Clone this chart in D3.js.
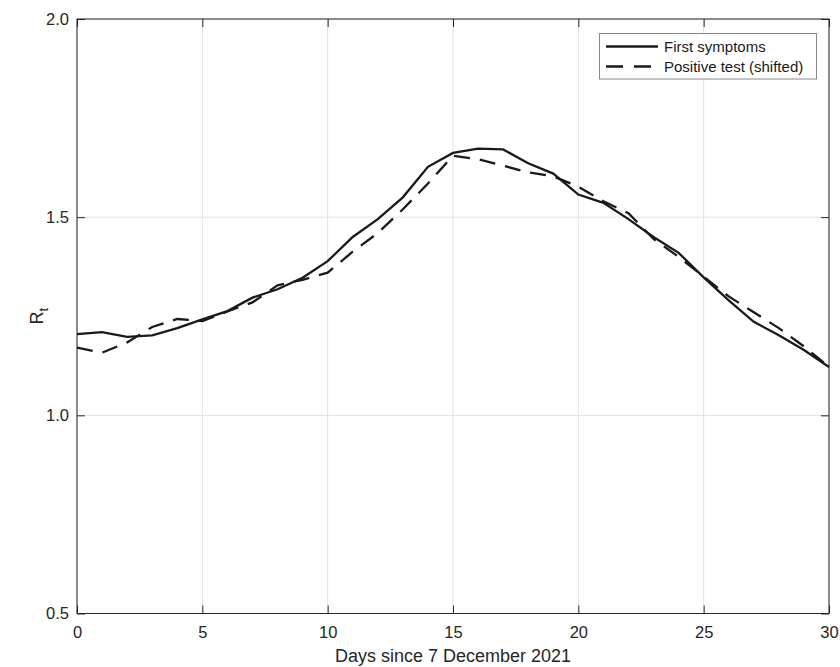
<!DOCTYPE html>
<html>
<head>
<meta charset="utf-8">
<script src="https://cdn.jsdelivr.net/npm/d3@7"></script>
<style>
  body { margin: 0; background: #fff; }
  svg { display: block; font-family: "Liberation Sans", Arial, Helvetica, sans-serif; }
</style>
</head>
<body>
<svg id="chart" width="840" height="667"></svg>
<script>
// R_t estimates, days since 7 December 2021
var days = [0,1,2,3,4,5,6,7,8,9,10,11,12,13,14,15,16,17,18,19,20,21,22,23,24,25,26,27,28,29,30];
var firstSymptoms = [1.205,1.210,1.198,1.202,1.220,1.242,1.263,1.297,1.318,1.347,1.389,1.450,1.495,1.550,1.627,
                     1.662,1.673,1.671,1.636,1.610,1.557,1.536,1.495,1.450,1.410,1.348,1.290,1.236,1.202,1.165,1.122];
var positiveTest = [1.171,1.158,1.184,1.223,1.243,1.238,1.262,1.285,1.328,1.342,1.360,1.413,1.460,1.520,1.585,
                    1.655,1.646,1.630,1.613,1.603,1.577,1.540,1.510,1.445,1.400,1.350,1.300,1.260,1.220,1.174,1.122];
var xTicks = [0,5,10,15,20,25,30];
var yTicks = [0.5,1.0,1.5,2.0];
var seriesNames = ["First symptoms", "Positive test (shifted)"];

var svg = d3.select("#chart");
// note: "top" is taken by window.top, so the plot box uses its own names
var pLeft = 77, pRight = 829, pTop = 19, pBottom = 613.5;
var axisColor = "#262626", gridColor = "#e2e2e2";

var x = d3.scaleLinear().domain([0, 30]).range([pLeft, pRight]);
var y = d3.scaleLinear().domain([0.5, 2.0]).range([pBottom, pTop]);

// grid
var g = svg.append("g");
g.selectAll(".vgrid").data(xTicks).enter().append("line")
	.attr("x1", function(d) { return x(d); }).attr("x2", function(d) { return x(d); })
	.attr("y1", pTop).attr("y2", pBottom)
	.attr("stroke", gridColor).attr("stroke-width", 1);
g.selectAll(".hgrid").data(yTicks).enter().append("line")
	.attr("y1", function(d) { return y(d); }).attr("y2", function(d) { return y(d); })
	.attr("x1", pLeft).attr("x2", pRight)
	.attr("stroke", gridColor).attr("stroke-width", 1);

// axes (ticks pointing inward, box on all sides)
function styleAxis(sel) {
	sel.select(".domain").remove();
	sel.selectAll(".tick line").attr("stroke", axisColor);
	sel.selectAll(".tick text").attr("fill", axisColor).style("font-size", "16.5px").style("font-family", null);
}
var tickLen = 8;
svg.append("g").attr("transform", "translate(0," + pBottom + ")")
	.call(d3.axisBottom(x).tickValues(xTicks).tickFormat(d3.format("d")).tickSizeInner(-tickLen).tickSizeOuter(0).tickPadding(13))
	.call(styleAxis);
svg.append("g").attr("transform", "translate(0," + pTop + ")")
	.call(d3.axisTop(x).tickValues(xTicks).tickFormat("").tickSizeInner(-tickLen).tickSizeOuter(0))
	.call(styleAxis);
svg.append("g").attr("transform", "translate(" + pLeft + ",0)")
	.call(d3.axisLeft(y).tickValues(yTicks).tickFormat(d3.format(".1f")).tickSizeInner(-tickLen).tickSizeOuter(0).tickPadding(8))
	.call(styleAxis);
svg.append("g").attr("transform", "translate(" + pRight + ",0)")
	.call(d3.axisRight(y).tickValues(yTicks).tickFormat("").tickSizeInner(-tickLen).tickSizeOuter(0))
	.call(styleAxis);

svg.append("rect")
	.attr("x", pLeft).attr("y", pTop).attr("width", pRight - pLeft).attr("height", pBottom - pTop)
	.attr("fill", "none").attr("stroke", axisColor).attr("stroke-width", 1);

// lines
var line = d3.line()
	.x(function(d) { return x(d[0]); })
	.y(function(d) { return y(d[1]); });

svg.append("path")
	.datum(d3.zip(days, positiveTest))
	.attr("d", line)
	.attr("fill", "none").attr("stroke", "#1a1a1a").attr("stroke-width", 2.3)
	.attr("stroke-dasharray", "16,10");
svg.append("path")
	.datum(d3.zip(days, firstSymptoms))
	.attr("d", line)
	.attr("fill", "none").attr("stroke", "#1a1a1a").attr("stroke-width", 2.3);

// axis labels
svg.append("text")
	.attr("x", (pLeft + pRight) / 2).attr("y", 662)
	.attr("text-anchor", "middle").attr("fill", axisColor)
	.style("font-size", "18px")
	.text("Days since 7 December 2021");

var yl = svg.append("text")
	.attr("transform", "translate(43," + ((pTop + pBottom) / 2) + ") rotate(-90)")
	.attr("text-anchor", "middle").attr("fill", axisColor)
	.style("font-size", "18px");
yl.append("tspan").text("R");
yl.append("tspan").attr("dy", 5).style("font-size", "13px").text("t");

// legend
var lg = svg.append("g");
lg.append("rect")
	.attr("x", 599.5).attr("y", 33.5).attr("width", 217).attr("height", 45.5)
	.attr("fill", "#fff").attr("stroke", "#888").attr("stroke-width", 1);
var rows = lg.selectAll(".row").data(seriesNames).enter().append("g")
	.attr("transform", function(d, i) { return "translate(0," + (46.5 + i * 20) + ")"; });
rows.append("line")
	.attr("x1", 606).attr("x2", 658).attr("y1", 0).attr("y2", 0)
	.attr("stroke", "#1a1a1a").attr("stroke-width", 2.3)
	.attr("stroke-dasharray", function(d, i) { return i === 1 ? "17,11" : null; });
rows.append("text")
	.attr("x", 664).attr("y", 5)
	.attr("fill", "#1a1a1a")
	.style("font-size", "15px")
	.text(function(d) { return d; });
</script>
</body>
</html>
